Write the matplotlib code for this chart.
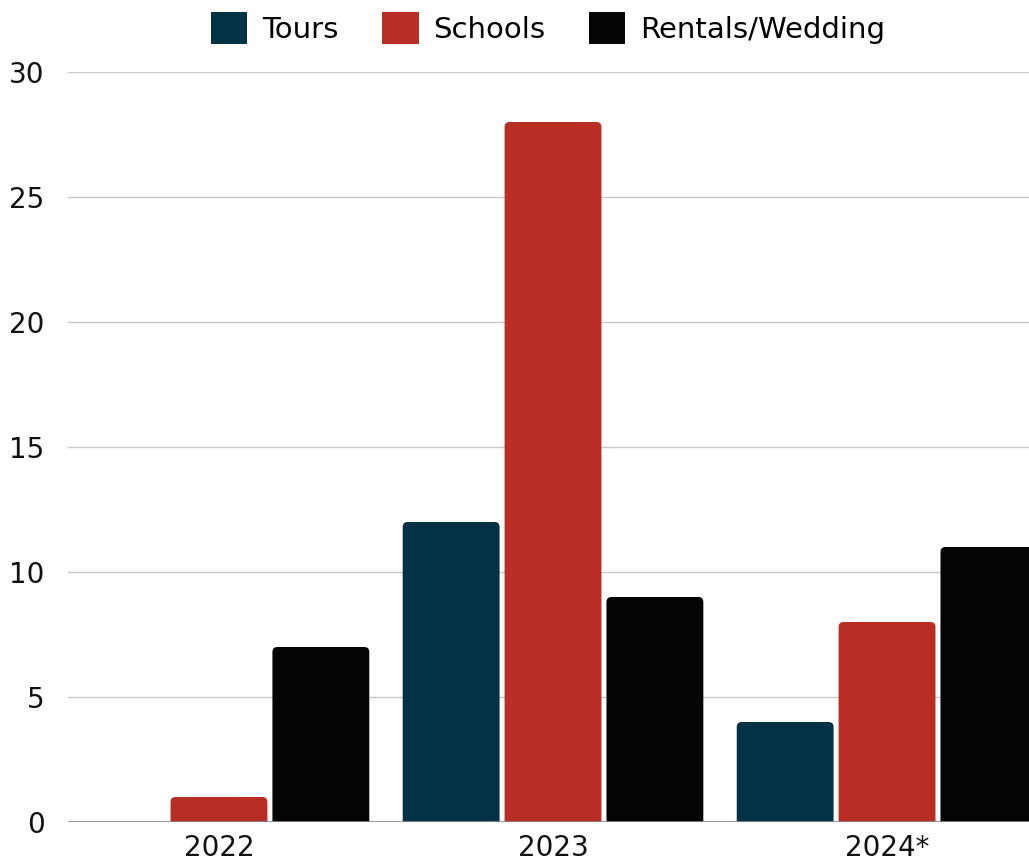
import numpy as np
import matplotlib
matplotlib.use("Agg")
import matplotlib.pyplot as plt
from matplotlib.patches import FancyBboxPatch, Patch

years = ["2022", "2023", "2024*"]
series = ["Tours", "Schools", "Rentals/Wedding"]
tours = [0, 12, 4]
schools = [1, 28, 8]
rentals = [7, 9, 11]
colors = ["#023243", "#b82e25", "#050505"]

plt.rcParams["font.family"] = ["DejaVu Sans"]

fig = plt.figure(figsize=(10.29, 8.64), dpi=100)
ax = fig.add_axes([68 / 1029, 1 - 822 / 864, 1 - 68 / 1029, (822 - 72) / 864])

ax.set_xlim(-0.452, 2.425)
ax.set_ylim(0, 30)

# px per data unit, used to keep the corner radius round
px_x = (1029 - 68) / (2.425 + 0.452)
px_y = 750 / 30
aspect = px_x / px_y
radius = 5 / px_x

width = 0.29
offset = 0.305
x = np.arange(len(years))
for i, (vals, col) in enumerate(zip([tours, schools, rentals], colors)):
    for xi, v in zip(x, vals):
        left = xi + (i - 1) * offset - width / 2
        # box extends below zero so only the top corners show rounded
        bottom = -0.5
        p = FancyBboxPatch((left, bottom), width, v - bottom,
                           boxstyle=f"round,pad=0,rounding_size={radius}",
                           mutation_aspect=aspect, facecolor=col,
                           edgecolor="none", zorder=3)
        ax.add_patch(p)

ax.set_yticks(np.arange(0, 31, 5))
ax.set_xticks(x)
ax.set_xticklabels(years)
ax.grid(axis="y", color="#c8c8c8", linewidth=1.0, zorder=0)
ax.axhline(0, color="#8a8a8a", linewidth=1.2, zorder=4)
for s in ax.spines.values():
    s.set_visible(False)
ax.tick_params(axis="both", length=0, labelsize=20, colors="#111111")
ax.tick_params(axis="y", pad=17)
ax.tick_params(axis="x", pad=9)

handles = [Patch(facecolor=c, edgecolor="none") for c in colors]
fig.legend(handles, series, loc="upper center", bbox_to_anchor=(548 / 1029, 1 - 12 / 864),
           ncol=3, frameon=False, fontsize=21, handlelength=1.25, handleheight=1.3,
           handletextpad=0.5, columnspacing=1.5, borderaxespad=0, borderpad=0)

fig.savefig("out.png", dpi=100)
